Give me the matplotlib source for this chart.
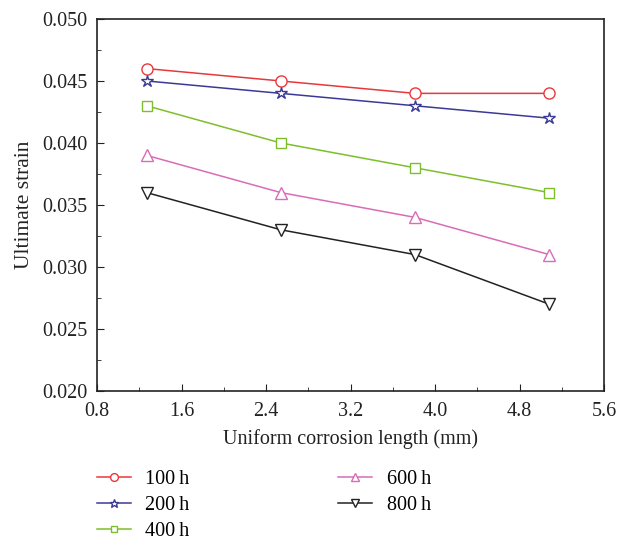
import matplotlib
matplotlib.use("Agg")
import matplotlib.pyplot as plt
from matplotlib.ticker import MultipleLocator

plt.rcParams['font.family'] = ['Liberation Serif', 'DejaVu Serif']

# corrosion length (mm)
x = [1.27, 2.54, 3.81, 5.08]
labels = ['100\u2009h', '200\u2009h', '400\u2009h', '600\u2009h', '800\u2009h']
s100 = [0.046, 0.045, 0.044, 0.044]
s200 = [0.045, 0.044, 0.043, 0.042]
s400 = [0.043, 0.040, 0.038, 0.036]
s600 = [0.039, 0.036, 0.034, 0.031]
s800 = [0.036, 0.033, 0.031, 0.027]

series = [s100, s200, s400, s600, s800]
colors = ['#e8383d', '#3a3a96', '#7dbf2a', '#d96cb8', '#222222']
markers = ['o', '*', 's', '^', 'v']
msizes = [8, 9, 6.5, 8, 8]

fig = plt.figure(figsize=(6.28, 5.42), dpi=100)
ax = fig.add_axes([0.1545, 0.2786, 0.8075, 0.6864])

for y, lab, c, m, ms in zip(series, labels, colors, markers, msizes):
    ax.plot(x, y, color=c, marker=m, ms=ms, mfc='white', mec=c, mew=1.0,
            lw=1.1, label=lab)

ax.set_xlim(0.8, 5.6)
ax.set_ylim(0.020, 0.050)
ax.xaxis.set_major_locator(MultipleLocator(0.8))
ax.xaxis.set_minor_locator(MultipleLocator(0.4))
ax.yaxis.set_major_locator(MultipleLocator(0.005))
ax.yaxis.set_minor_locator(MultipleLocator(0.0025))
ax.xaxis.set_major_formatter(plt.FuncFormatter(lambda v, p: '%.1f' % v))
ax.yaxis.set_major_formatter(plt.FuncFormatter(lambda v, p: '%.3f' % v))
ax.tick_params(which='both', direction='in', top=False, right=False,
               labelsize=14.5, colors='#222222')
ax.tick_params(which='major', length=5)
ax.tick_params(which='minor', length=3)
ax.tick_params(axis='y', pad=7)
ax.tick_params(axis='x', pad=8)
for sp in ax.spines.values():
    sp.set_linewidth(1.2)
    sp.set_color('#222222')

ax.set_xlabel('Uniform corrosion length (mm)', fontsize=14.5, color='#222222', labelpad=6)
ax.set_ylabel('Ultimate strain', fontsize=15.5, color='#222222', labelpad=6)

h, l = ax.get_legend_handles_labels()
fig.legend(h, l, ncol=2, loc='upper left', bbox_to_anchor=(0.125, 0.166),
           frameon=False, fontsize=14.5, handlelength=1.7, markerscale=0.7,
           columnspacing=7.4, labelspacing=0.33, handletextpad=0.7)

fig.savefig('out.png', dpi=100)
